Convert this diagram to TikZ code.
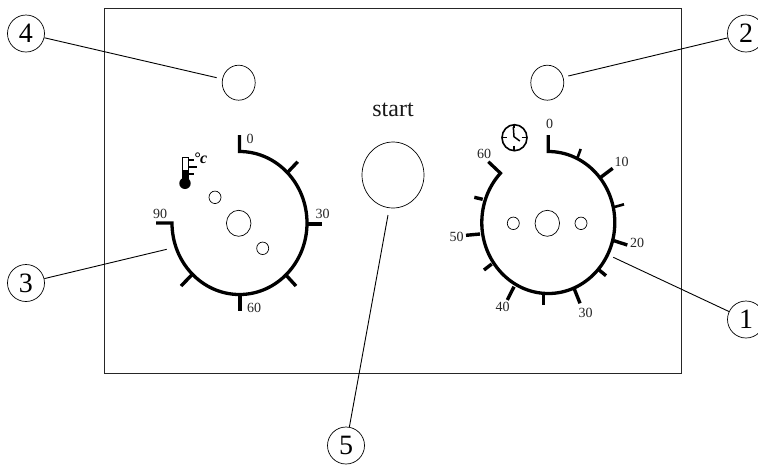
\documentclass[tikz,border=0pt]{standalone}
\usepackage{fontspec}
\setmainfont{Liberation Serif}
\usetikzlibrary{shapes.geometric}
\tikzset{
  numc/.style={circle,draw=black,line width=0.7pt,minimum size=37pt,inner sep=0pt,font=\fontsize{28}{28}\selectfont},
  hole/.style={ellipse,draw=black,line width=0.7pt,inner sep=0pt},
  dot/.style={hole,minimum width=12pt,minimum height=12.5pt},
  knob/.style={hole,minimum width=24.5pt,minimum height=26pt},
  btn/.style={hole,minimum width=33pt,minimum height=35pt},
  leader/.style={line width=0.9pt,black},
  dial/.style={line width=3.3pt,black},
  tickm/.style={line width=3.4pt,black},
  val/.style={inner sep=0pt,font=\fontsize{14}{14}\selectfont,text=black!85},
}
\begin{document}
\begin{tikzpicture}[x=1pt,y=-1pt]
\useasboundingbox (0,0) rectangle (758,467);
\node[draw=black!85,line width=0.9pt,minimum width=577.5pt,minimum height=365.5pt,inner sep=0pt] (panel) at (393,191) {};
% numbered callouts
\node[numc] (n4) at (26,33.5) {4};
\node[numc] (n2) at (746,33.5) {2};
\node[numc] (n3) at (26,283) {3};
\node[numc] (n1) at (746,319.5) {1};
\node[numc] (n5) at (346,445.5) {5};
% buttons
\node[btn] (b4) at (238.7,82.7) {};
\node[btn] (b2) at (547.3,82.7) {};
\node[hole,minimum width=62pt,minimum height=66pt] (bs) at (393,175) {};
\node[inner sep=0pt,font=\fontsize{24}{24}\selectfont,text=black!90] (st) at (393,110) {start};
% leader ends
\coordinate (e4) at (216.7,77.7);
\coordinate (e2) at (568.3,76);
\coordinate (e3) at (166.7,249.3);
\coordinate (e1) at (613.3,257.3);
\coordinate (e5) at (388,215);
\draw[leader] (n4) -- (e4);
\draw[leader] (n2) -- (e2);
\draw[leader] (n3) -- (e3);
\draw[leader] (n1) -- (e1);
\draw[leader] (n5) -- (e5);
% left dial
\node[knob] (kl) at (238.7,223.3) {};
\node[dot] (dl1) at (215,197.3) {};
\node[dot] (dl2) at (262.7,248.3) {};
\draw[dial,line join=miter] (239.5,135) -- (239.5,151.5) arc[start angle=-90,end angle=180,x radius=67.5,y radius=71.5] -- (156,223);
\draw[tickm] (287.7,172.3) -- (297.7,161.7);
\draw[tickm] (306.7,224) -- (321.7,224);
\draw[tickm] (285,274) -- (296,286);
\draw[tickm] (240,294) -- (240,310.7);
\draw[tickm] (191.7,275) -- (181,286);
\node[val] (l0) at (250,139.3) {0};
\node[val] (l30) at (322.7,214.3) {30};
\node[val] (l60) at (254,308.3) {60};
\node[val] (l90) at (160,214.3) {90};
% thermometer
\draw[line width=0.8pt,fill=white] (182.3,157.7) rectangle (188.3,172);
\fill[black] (182,170) rectangle (188.6,180);
\fill[black] (185,183.3) circle[radius=5.7];
\draw[line width=1.6pt] (189.3,160) -- (194,160);
\draw[line width=1.2pt] (189.3,167) -- (197.3,167);
\draw[line width=1.6pt] (189.3,173.7) -- (194,173.7);
\node[inner sep=0pt,font=\fontsize{16}{16}\selectfont\bfseries\itshape] (deg) at (200.5,158) {°c};
% right dial
\node[knob] (kr) at (547.3,223.3) {};
\node[dot] (dr1) at (513.3,223.3) {};
\node[dot] (dr2) at (581,223.3) {};
\draw[dial,line join=miter] (548.3,135) -- (548.3,151.5) arc[start angle=-90,end angle=224,x radius=66.5,y radius=71] -- (488.3,161.7);
\draw[tickm,line width=2.6pt] (577.3,158.3) -- (580.7,149);
\draw[tickm] (600.7,177.3) -- (612.7,168.3);
\draw[tickm,line width=2.6pt] (613.3,207.3) -- (624,204.3);
\draw[tickm] (614,240.7) -- (627.3,245);
\draw[tickm] (598.3,269.3) -- (606,275.7);
\draw[tickm] (574,288.3) -- (580,303.3);
\draw[tickm] (543.3,294) -- (543.3,305);
\draw[tickm] (514,286.7) -- (507.3,300);
\draw[tickm] (491.7,264) -- (484,270);
\draw[tickm] (480,234) -- (466,235.3);
\draw[tickm] (482.7,199.3) -- (474.3,197.3);
\node[val] (r0) at (549.7,124) {0};
\node[val] (r10) at (621.7,162) {10};
\node[val] (r20) at (637,243) {20};
\node[val] (r30) at (585.7,312.7) {30};
\node[val] (r40) at (502.7,307.3) {40};
\node[val] (r50) at (456.7,236.7) {50};
\node[val] (r60) at (484,154.3) {60};
% clock
\draw[line width=1.6pt] (514.5,137.7) ellipse[x radius=12.5,y radius=13];
\draw[line width=1.5pt,line join=miter] (513.3,127) -- (514,136.7) -- (519.8,141);
\draw[line width=1.4pt] (514,125) -- (514,128);
\draw[line width=1.4pt] (503,137.7) -- (506.5,137.7);
\draw[line width=1.4pt] (521.5,137.7) -- (525.5,137.7);
\draw[line width=1.4pt] (514,145.5) -- (514,149.5);
\end{tikzpicture}
\end{document}
